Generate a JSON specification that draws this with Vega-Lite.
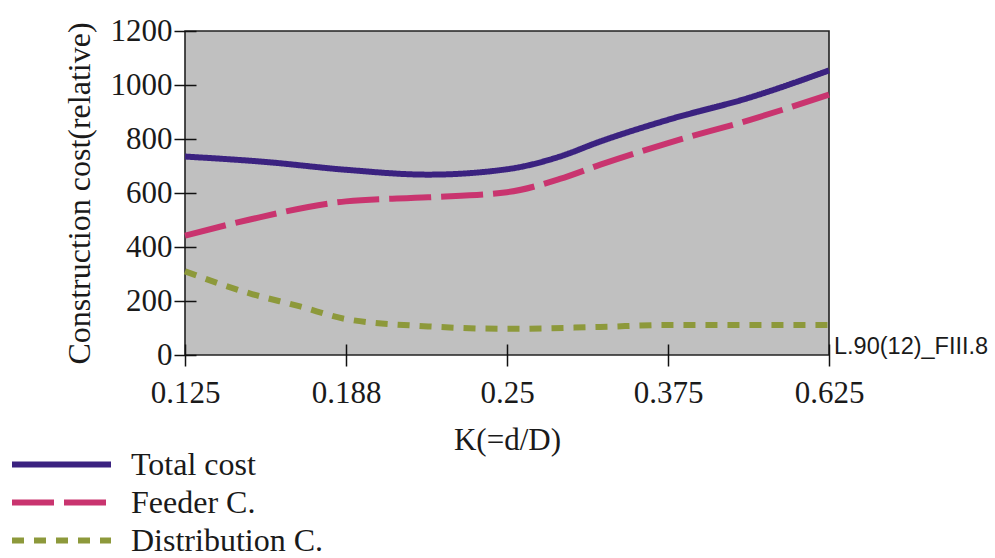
{
  "$schema": "https://vega.github.io/schema/vega-lite/v6.json",
  "width": 644,
  "height": 324,
  "autosize": {"type": "none"},
  "padding": {"left": 185, "top": 31, "right": 166, "bottom": 203},
  "background": "white",
  "config": {
    "view": {"fill": "#c0c0c0", "stroke": "#222222", "strokeWidth": 1.6},
    "font": "Liberation Serif",
    "axis": {
      "labelFont": "Liberation Serif",
      "titleFont": "Liberation Serif",
      "labelFontSize": 31,
      "titleFontSize": 31,
      "titleFontWeight": "normal",
      "labelColor": "#1a1a1a",
      "titleColor": "#1a1a1a",
      "tickColor": "#111111",
      "tickWidth": 1.5,
      "grid": false
    },
    "legend": {
      "labelFont": "Liberation Serif",
      "labelFontSize": 32,
      "labelColor": "#1a1a1a",
      "labelLimit": 400
    }
  },
  "datasets": {
    "costs": [
      {"k": 0.125, "cost": 735, "series": "Total cost"},
      {"k": 0.1565, "cost": 715, "series": "Total cost"},
      {"k": 0.188, "cost": 686, "series": "Total cost"},
      {"k": 0.2196, "cost": 668, "series": "Total cost"},
      {"k": 0.25, "cost": 688, "series": "Total cost"},
      {"k": 0.291, "cost": 735, "series": "Total cost"},
      {"k": 0.3225, "cost": 791, "series": "Total cost"},
      {"k": 0.375, "cost": 871, "series": "Total cost"},
      {"k": 0.5025, "cost": 954, "series": "Total cost"},
      {"k": 0.625, "cost": 1054, "series": "Total cost"},
      {"k": 0.125, "cost": 442, "series": "Feeder C."},
      {"k": 0.15, "cost": 501, "series": "Feeder C."},
      {"k": 0.188, "cost": 569, "series": "Feeder C."},
      {"k": 0.2196, "cost": 584, "series": "Feeder C."},
      {"k": 0.25, "cost": 603, "series": "Feeder C."},
      {"k": 0.291, "cost": 652, "series": "Feeder C."},
      {"k": 0.3225, "cost": 705, "series": "Feeder C."},
      {"k": 0.375, "cost": 785, "series": "Feeder C."},
      {"k": 0.5025, "cost": 871, "series": "Feeder C."},
      {"k": 0.625, "cost": 964, "series": "Feeder C."},
      {"k": 0.125, "cost": 310, "series": "Distribution C."},
      {"k": 0.15, "cost": 229, "series": "Distribution C."},
      {"k": 0.17, "cost": 180, "series": "Distribution C."},
      {"k": 0.188, "cost": 133, "series": "Distribution C."},
      {"k": 0.2196, "cost": 106, "series": "Distribution C."},
      {"k": 0.25, "cost": 97, "series": "Distribution C."},
      {"k": 0.3225, "cost": 104, "series": "Distribution C."},
      {"k": 0.375, "cost": 111, "series": "Distribution C."},
      {"k": 0.5025, "cost": 111, "series": "Distribution C."},
      {"k": 0.625, "cost": 111, "series": "Distribution C."}
    ],
    "note": [
      {"k": 0.625, "cost": 0, "label": "L.90(12)_FIII.8"}
    ]
  },
  "layer": [
    {
      "data": {"name": "costs"},
      "mark": {"type": "line", "interpolate": "monotone", "strokeCap": "butt"},
      "encoding": {
        "x": {
          "field": "k", "type": "quantitative",
          "scale": {"domain": [0.125, 0.188, 0.25, 0.375, 0.625], "range": [0, 161, 322, 483, 644], "nice": false, "zero": false},
          "axis": {"orient": "bottom", "values": [0.125, 0.188, 0.25, 0.375, 0.625], "format": ".3~f", "domain": false, "offset": -11, "tickSize": 22, "labelPadding": 12, "title": "K(=d/D)", "titlePadding": 17, "labelFlush": false}
        },
        "y": {
          "field": "cost", "type": "quantitative",
          "scale": {"domain": [0, 1200], "nice": false, "zero": true},
          "axis": {"orient": "left", "values": [0, 200, 400, 600, 800, 1000, 1200], "format": "d", "domain": false, "offset": -11, "tickSize": 22, "labelPadding": 2, "title": "Construction cost(relative)", "titleFontSize": 32, "titlePadding": 14, "labelFlush": false}
        },
        "color": {
          "field": "series", "type": "nominal",
          "scale": {"domain": ["Total cost", "Feeder C.", "Distribution C."], "range": ["#3b2280", "#c9346f", "#8d993b"]},
          "legend": {"title": null, "orient": "none", "legendX": -176, "legendY": 414, "symbolType": "M-1,0H5", "symbolSize": 1089, "symbolStrokeWidth": 7.5, "symbolFillColor": "transparent", "labelOffset": 83, "rowPadding": 2, "padding": 0, "offset": 0}
        },
        "strokeDash": {
          "field": "series", "type": "nominal",
          "scale": {"domain": ["Total cost", "Feeder C.", "Distribution C."], "range": [[1, 0], [42, 10], [12, 10]]},
          "legend": {"title": null, "orient": "none", "legendX": -176, "legendY": 414, "symbolType": "M-1,0H5", "symbolSize": 1089, "symbolStrokeWidth": 7.5, "symbolFillColor": "transparent", "labelOffset": 83, "rowPadding": 2, "padding": 0, "offset": 0}
        },
        "strokeWidth": {
          "field": "series", "type": "nominal",
          "scale": {"domain": ["Total cost", "Feeder C.", "Distribution C."], "range": [6, 6, 7.5]},
          "legend": null
        }
      }
    },
    {
      "data": {"name": "note"},
      "mark": {"type": "text", "font": "Liberation Sans", "fontSize": 23.5, "align": "left", "baseline": "alphabetic", "dx": 5, "dy": -1, "color": "#1a1a1a"},
      "encoding": {
        "x": {"field": "k", "type": "quantitative"},
        "y": {"field": "cost", "type": "quantitative"},
        "text": {"field": "label"}
      }
    }
  ]
}
